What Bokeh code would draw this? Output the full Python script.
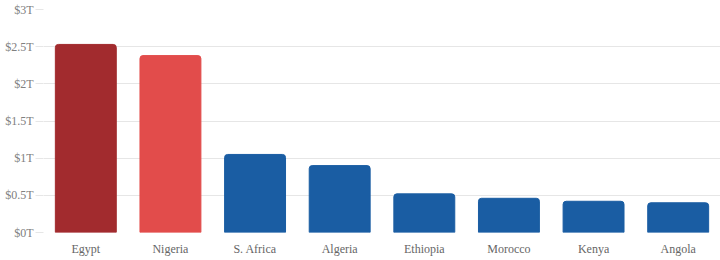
from bokeh.plotting import figure
from bokeh.models import SingleIntervalTicker, CustomJSTickFormatter, Range1d, ColumnDataSource
from bokeh.embed import file_html
from bokeh.resources import INLINE

countries = ["Egypt", "Nigeria", "S. Africa", "Algeria", "Ethiopia", "Morocco", "Kenya", "Angola"]
values_t = [2.53, 2.38, 1.05, 0.90, 0.52, 0.46, 0.42, 0.40]
colors = ["#A22B2E", "#E24C4B", "#1A5DA3", "#1A5DA3", "#1A5DA3", "#1A5DA3", "#1A5DA3", "#1A5DA3"]

FONT = "Liberation Serif"
src = ColumnDataSource(dict(x=countries, top=values_t, color=colors))

p = figure(x_range=countries, y_range=Range1d(0, 3), width=720, height=260,
           output_backend="svg", toolbar_location=None,
           min_border_left=43, min_border_right=0, min_border_top=9, min_border_bottom=28)
p.outline_line_color = None
p.background_fill_color = "white"

p.vbar(x="x", top="top", width=0.72, source=src, fill_color="color",
       line_color="color", border_radius=(3, 3, 0, 0))

p.yaxis.ticker = SingleIntervalTicker(interval=0.5)
p.yaxis.formatter = CustomJSTickFormatter(code='return "$" + tick + "T";')
p.yaxis.axis_line_color = None
p.yaxis.major_tick_line_color = "#e6e6e6"
p.yaxis.major_tick_out = 8
p.yaxis.major_tick_in = 0
p.yaxis.minor_tick_line_color = None
p.yaxis.major_label_standoff = 2
p.yaxis.major_label_text_font = FONT
p.yaxis.major_label_text_font_size = "12px"
p.yaxis.major_label_text_color = "#808080"

p.xaxis.axis_line_color = None
p.xaxis.major_tick_line_color = None
p.xaxis.major_tick_out = 0
p.xaxis.major_tick_in = 0
p.xaxis.minor_tick_line_color = None
p.xaxis.major_label_standoff = 9
p.xaxis.major_label_text_font = FONT
p.xaxis.major_label_text_font_size = "12px"
p.xaxis.major_label_text_color = "#666666"

p.xgrid.grid_line_color = None
p.ygrid.grid_line_color = "#e6e6e6"
p.ygrid.grid_line_width = 1

open("out.html", "w").write(file_html(p, INLINE))
